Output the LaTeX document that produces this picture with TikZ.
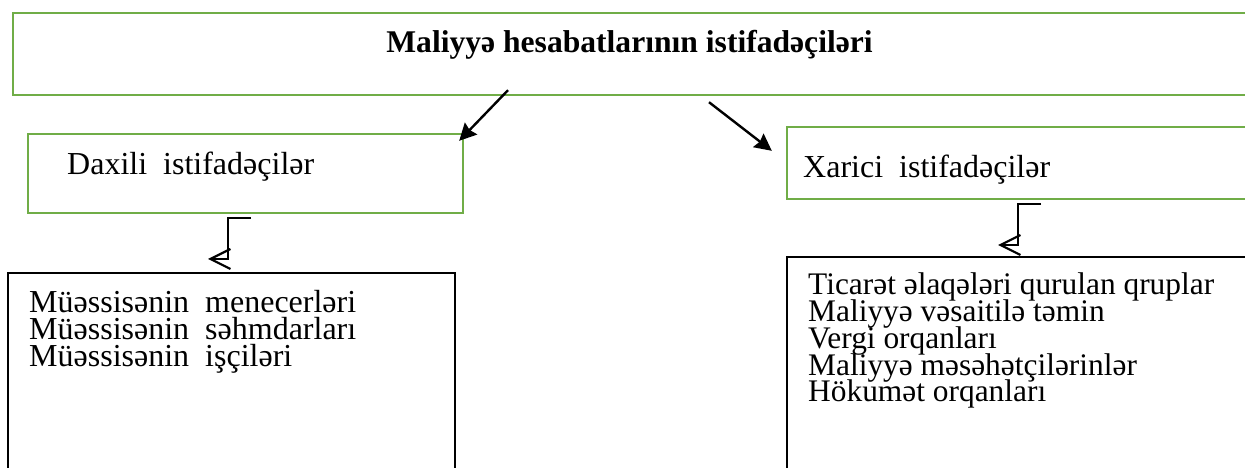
\documentclass[tikz,border=0pt]{standalone}
\usepackage{fontspec}
\setmainfont{Liberation Serif}
\usetikzlibrary{arrows.meta, calc}

\definecolor{boxgreen}{HTML}{70AD47}

\begin{document}
\begin{tikzpicture}[
    x=1bp, y=-1bp,
    greenbox/.style={draw=boxgreen, line width=2.4bp, inner sep=0pt},
    blackbox/.style={draw=black, line width=2bp, inner sep=0pt},
    boxtext/.style={inner sep=0pt, anchor=base west, font=\fontsize{32bp}{27bp}\selectfont},
    listtext/.style={boxtext, font=\fontsize{31.4bp}{27bp}\selectfont},
    titletext/.style={inner sep=0pt, anchor=base, font=\bfseries\fontsize{31.6bp}{31.6bp}\selectfont},
    flow/.style={-{Stealth[length=17bp, width=17bp, inset=2bp]}, line width=2.4bp},
    elbow/.style={-{Straight Barb[length=20bp, width=20bp]}, line width=2.2bp}
]
\useasboundingbox (0,0) rectangle (1245,468);
\clip (0,0) rectangle (1245,468);

% boxes
\node[greenbox, minimum width=1290bp, minimum height=82bp] (users) at (658,54) {};
\node[titletext] (title) at (629.5,53) {Maliyyə hesabatlarının istifadəçiləri};

\node[greenbox, minimum width=435bp, minimum height=79bp] (internal) at (245.5,173.5) {};
\node[boxtext] (internaltxt) at (67,175) {Daxili\ \ istifadəçilər};

\node[greenbox, minimum width=513bp, minimum height=72bp] (external) at (1043.5,163) {};
\node[boxtext] (externaltxt) at (803,178) {Xarici\ \ istifadəçilər};

\node[blackbox, minimum width=447bp, minimum height=260bp] (internallist) at (231.5,403) {};
\node[blackbox, minimum width=513bp, minimum height=260bp] (externallist) at (1043.5,387) {};

% list entries
\foreach \entry [count=\i] in {Müəssisənin\ \ menecerləri, Müəssisənin\ \ səhmdarları, Müəssisənin\ \ işçiləri}
    \node[boxtext] (intitem\i) at (29,{313+27*(\i-1)}) {\entry};
\foreach \entry [count=\i] in {Ticarət əlaqələri qurulan qruplar, Maliyyə vəsaitilə təmin, Vergi orqanları, Maliyyə məsəhətçilərinlər, Hökumət orqanları}
    \node[listtext] (extitem\i) at (808,{295+26.75*(\i-1)}) {\entry};

% connectors
\draw[flow] ($(users.south)+(-150,-6)$) -- ($(internal.north east)+(-5,8)$);
\draw[flow] ($(users.south)+(51,6)$) -- ($(external.north west)+(-14,25)$);

\draw[elbow] ($(internal.south)+(5.5,4)$) -- ++(-23,0) |- ($(internallist.north)+(-23.5,-13)$);
\draw[elbow] ($(external.south)+(-2.5,4)$) -- ++(-23,0) |- ($(externallist.north)+(-45.5,-11)$);

\end{tikzpicture}
\end{document}
